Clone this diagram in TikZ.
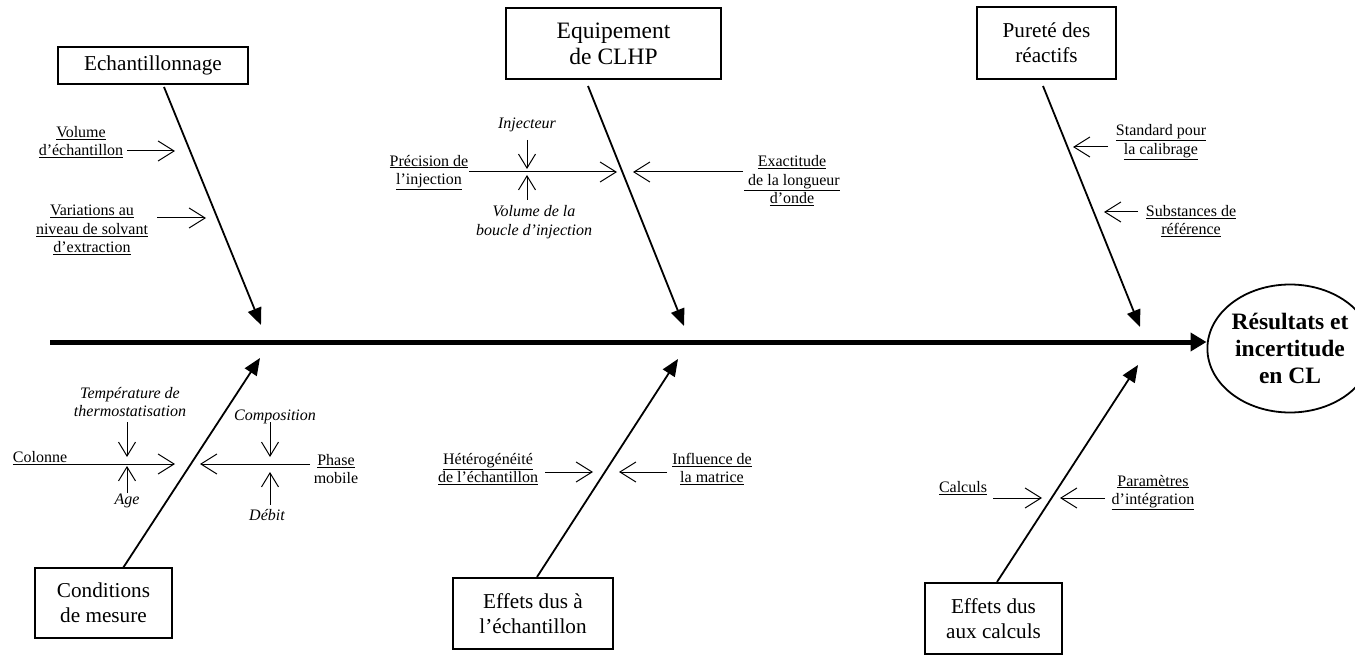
\documentclass[tikz,border=0pt]{standalone}
\usepackage{fontspec}
\setmainfont{Liberation Serif}
\usetikzlibrary{arrows.meta,shapes.geometric}
\newcommand{\undl}[1]{\underline{#1}}
\begin{document}
\begin{tikzpicture}[x=1pt,y=-1pt,
  catbox/.style={draw,line width=1.6pt,inner sep=0pt,align=center,
    font=\fontsize{21.2}{25}\selectfont},
  lbl/.style={inner sep=0pt,align=center,font=\fontsize{16}{18.5}\selectfont},
  itl/.style={inner sep=0pt,align=center,font=\fontsize{16}{18.5}\selectfont\itshape},
  spine/.style={line width=5pt,-{Triangle[length=16pt,width=18pt]}},
  bone/.style={line width=1.8pt,-{Triangle[length=17pt,width=14pt]}},
  twig/.style={line width=1pt,-{Straight Barb[length=16pt,width=20pt,line width=1pt]}},
  vtwig/.style={line width=1pt,-{Straight Barb[length=14pt,width=17pt,line width=1pt]}}]
\useasboundingbox (0,0) rectangle (1355,655);

% effect
\node[ellipse,draw,line width=1.8pt,minimum width=156pt,minimum height=128pt,inner sep=0pt,
  align=center,font=\fontsize{23.5}{27}\selectfont\bfseries] (res) at (1290,348.5)
  {R\'esultats et\\incertitude\\en CL};
\coordinate (tail) at (50,342);
\draw[spine] (tail) -- (res.west |- tail);

% category boxes
\node[catbox,minimum width=190pt,minimum height=37pt] (ech) at (153,65.5) {Echantillonnage};
\node[catbox,minimum width=215pt,minimum height=71pt,font=\fontsize{23.5}{26}\selectfont] (equ) at (613.5,43.5) {Equipement\\de CLHP};
\node[catbox,minimum width=139pt,minimum height=72pt] (pur) at (1046.5,43) {Puret\'e des\\r\'eactifs};
\node[catbox,minimum width=137pt,minimum height=70pt] (cond) at (103.5,603) {Conditions\\de mesure};
\node[catbox,minimum width=160pt,minimum height=71pt] (eff) at (533,613.5) {Effets dus \`a\\l’\'echantillon};
\node[catbox,minimum width=137pt,minimum height=71pt] (calc) at (993.5,618.5) {Effets dus\\aux calculs};

% main bones
\coordinate (echS) at (164,87);   \coordinate (echT) at (261,325);
\coordinate (equS) at (588,86);   \coordinate (equT) at (684,326);
\coordinate (purS) at (1043,86);  \coordinate (purT) at (1140,327);
\coordinate (condS) at (123,568); \coordinate (condT) at (260,358);
\coordinate (effS) at (537,577);  \coordinate (effT) at (678,359);
\coordinate (calcS) at (997,582); \coordinate (calcT) at (1138,365);
\draw[bone] (echS) -- (echT);
\draw[bone] (equS) -- (equT);
\draw[bone] (purS) -- (purT);
\draw[bone] (condS) -- (condT);
\draw[bone] (effS) -- (effT);
\draw[bone] (calcS) -- (calcT);

% sampling
\node[lbl] (vol) at (81,142) {\undl{Volume}\\\undl{d’\'echantillon}};
\node[lbl] (var) at (92,230) {\undl{Variations au}\\\undl{niveau de solvant}\\\undl{d’extraction}};
\coordinate (volA) at (127,151); \coordinate (volB) at (175,151);
\coordinate (varA) at (157,218); \coordinate (varB) at (206,218);
\draw[twig] (volA) -- (volB);
\draw[twig] (varA) -- (varB);

% HPLC equipment
\node[lbl] (prec) at (429,172.5) {\undl{Pr\'ecision de}\\\undl{l’injection}};
\node[itl] (inj) at (527,125) {Injecteur};
\node[itl] (boucle) at (534,222) {Volume de la\\boucle d’injection};
\node[lbl] (exa) at (792,181) {\undl{Exactitude}\\\undl{\ de la longueur}\\\undl{d’onde}};
\coordinate (precA) at (469,172); \coordinate (precB) at (617,172);
\coordinate (injA) at (527,140);  \coordinate (injB) at (527,169);
\coordinate (bouA) at (527,200);  \coordinate (bouB) at (527,175);
\coordinate (exaA) at (743,172);  \coordinate (exaB) at (633,172);
\draw[twig] (precA) -- (precB);
\draw[vtwig] (injA) -- (injB);
\draw[vtwig] (bouA) -- (bouB);
\draw[twig] (exaA) -- (exaB);

% reagent purity
\node[lbl] (std) at (1161,142) {\undl{Standard pour}\\\undl{la calibrage}};
\node[lbl] (sub) at (1191,221) {\undl{Substances de}\\\undl{r\'ef\'erence}};
\coordinate (stdA) at (1108,147); \coordinate (stdB) at (1073,147);
\coordinate (subA) at (1138,212); \coordinate (subB) at (1104,212);
\draw[twig] (stdA) -- (stdB);
\draw[twig] (subA) -- (subB);

% measurement conditions
\node[lbl] (col) at (40,458) {\undl{Colonne}};
\node[itl] (temp) at (130,402) {Temp\'erature de\\thermostatisation};
\node[itl] (age) at (127,501) {Age};
\node[lbl] (pha) at (336,469) {\undl{Phase}\\mobile};
\node[itl] (comp) at (275,417) {Composition};
\node[itl] (deb) at (267,515) {D\'ebit};
\coordinate (colA) at (67,464);   \coordinate (colB) at (175,464);
\coordinate (tmpA) at (127,422);  \coordinate (tmpB) at (127,457);
\coordinate (ageA) at (127,493);  \coordinate (ageB) at (127,466);
\coordinate (phaA) at (310,464);  \coordinate (phaB) at (200,464);
\coordinate (cmpA) at (270,422);  \coordinate (cmpB) at (270,457);
\coordinate (debA) at (270,505);  \coordinate (debB) at (270,472);
\draw[twig] (colA) -- (colB);
\draw[vtwig] (tmpA) -- (tmpB);
\draw[vtwig] (ageA) -- (ageB);
\draw[twig] (phaA) -- (phaB);
\draw[vtwig] (cmpA) -- (cmpB);
\draw[vtwig] (debA) -- (debB);

% sample effects
\node[lbl] (het) at (488,469) {\undl{H\'et\'erog\'en\'eit\'e}\\\undl{de l’\'echantillon}};
\node[lbl] (inf) at (712,469) {\undl{Influence de}\\\undl{la matrice}};
\coordinate (hetA) at (545,472); \coordinate (hetB) at (593,472);
\coordinate (infA) at (667,472); \coordinate (infB) at (619,472);
\draw[twig] (hetA) -- (hetB);
\draw[twig] (infA) -- (infB);

% calculation effects
\node[lbl] (cal) at (963,488) {\undl{Calculs}};
\node[lbl] (par) at (1153,492.5) {\undl{Param\`etres}\\\undl{d’int\'egration}};
\coordinate (calA) at (993,498);  \coordinate (calB) at (1042,498);
\coordinate (parA) at (1105,498); \coordinate (parB) at (1060,498);
\draw[twig] (calA) -- (calB);
\draw[twig] (parA) -- (parB);
\end{tikzpicture}
\end{document}
